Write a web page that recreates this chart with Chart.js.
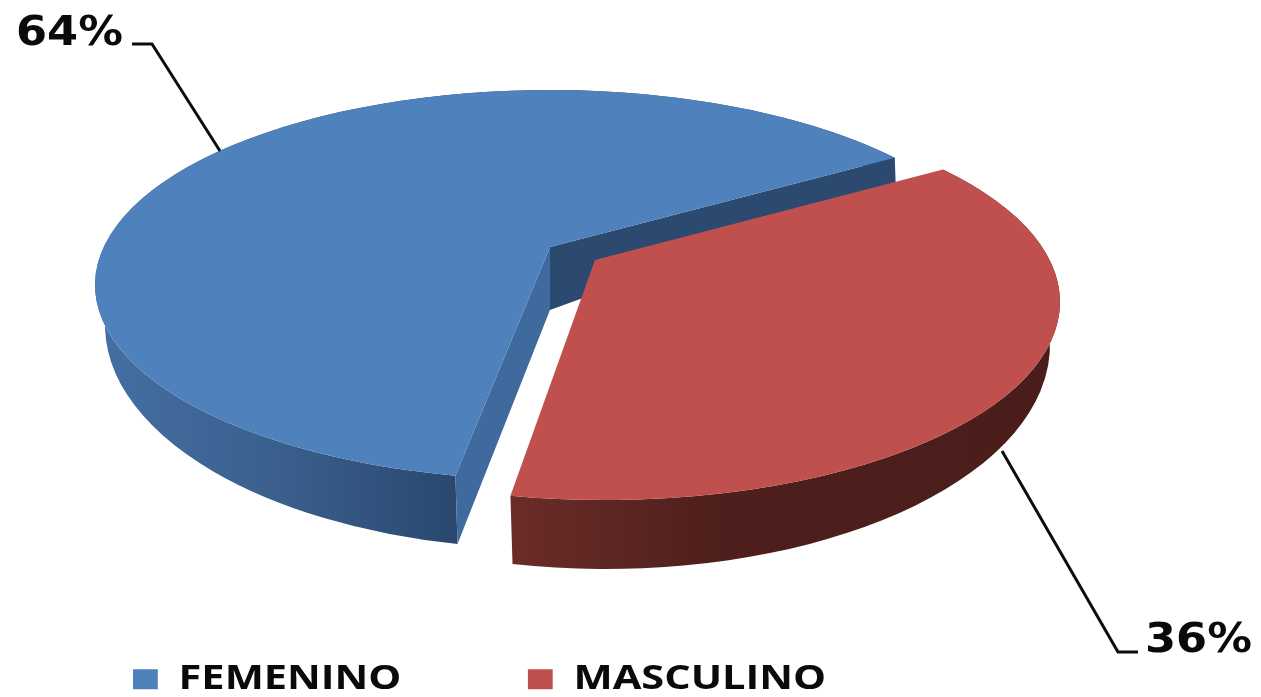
<!DOCTYPE html>
<html><head><meta charset="utf-8">
<style>html,body{margin:0;padding:0;background:#fff;overflow:hidden}canvas{display:block;filter:blur(.5px)}</style>
<script src="https://cdn.jsdelivr.net/npm/chart.js@4"></script>
</head><body><canvas id="c" width="1261" height="697"></canvas>
<script>
const categories = ['FEMENINO', 'MASCULINO'];
const shares = [64, 36];
const topColors = ['#4f81bd', '#c0504d'];

const DEG = Math.PI / 180;
// Projection of the tilted pie: top and bottom rims are separate ellipses, apex sits off-centre.
const projection = [
  { top: {cx:550, cy:285, rx:455, ry:195}, apexTop: [550,247],
    bottom: {cx:550, cy:325, rx:445, ry:224}, apexBottom: [550,310],
    wall: [[100,'#446fa2'],[280,'#3a5f8d'],[455,'#2a486e']],
    cuts: ['#2c4a70', '#3f6a9e'], trimTop: 0, trimBottom: 1.7 * DEG },
  { top: {cx:605, cy:302, rx:455, ry:198}, apexTop: [595,260],
    bottom: {cx:605, cy:345, rx:445, ry:224}, apexBottom: [600,325],
    wall: [[510,'#6b2c28'],[720,'#4e1f1c'],[1050,'#4a1d1b']],
    cuts: null, trimTop: -1.3 * DEG, trimBottom: 0 }
];
const PERSPECTIVE = 0.795;
const LEGEND_STRETCH = 1.24;
const LEGEND_X = 133, LEGEND_Y = 662.5;
function warp(a) {
  let psi = a - Math.PI / 2;
  psi = Math.atan2(Math.sin(psi), Math.cos(psi));
  return 2 * Math.atan(Math.tan(psi / 2) / PERSPECTIVE) + Math.PI / 2;
}
function rimPoint(e, t) { return [e.cx + e.rx * Math.cos(t), e.cy + e.ry * Math.sin(t)]; }

const pie3d = {
  id: 'pie3d',
  afterLayout(chart) {
    const lg = chart.legend, pad = lg.options.labels.padding;
    const dx = LEGEND_X - pad - lg.left, dy = LEGEND_Y - pad - lg.top;
    lg.left += dx; lg.right = chart.width * 2; lg.top += dy; lg.bottom += dy;
    if (!lg._stretched) {
      const draw = lg.draw.bind(lg);
      lg.draw = function () {
        const ctx = chart.ctx;
        ctx.save();
        ctx.translate(LEGEND_X, 0); ctx.scale(LEGEND_STRETCH, 1); ctx.translate(-LEGEND_X, 0);
        draw();
        ctx.restore();
      };
      lg._stretched = true;
    }
  },
  beforeDatasetsDraw(chart) {
    const ctx = chart.ctx, meta = chart.getDatasetMeta(0);
    meta.data.forEach((arc, i) => {
      const p = projection[i];
      const a0 = warp(arc.startAngle) + p.trimTop, a1 = warp(arc.endAngle);
      // outer wall
      const x0 = p.wall[0][0], x1 = p.wall[p.wall.length-1][0];
      const g = ctx.createLinearGradient(x0, 0, x1, 0);
      p.wall.forEach(s => g.addColorStop((s[0]-x0)/(x1-x0), s[1]));
      ctx.beginPath();
      ctx.ellipse(p.top.cx, p.top.cy, p.top.rx, p.top.ry, 0, a0, a1, false);
      ctx.ellipse(p.bottom.cx, p.bottom.cy, p.bottom.rx, p.bottom.ry, 0, a1, a0, true);
      ctx.closePath(); ctx.fillStyle = g; ctx.fill();
      // cut faces
      if (p.cuts) [a1, a0].forEach((a, k) => {
        const t = rimPoint(p.top, a), b = rimPoint(p.bottom, a + (k === 0 ? p.trimBottom : 0));
        ctx.beginPath(); ctx.moveTo(...p.apexTop); ctx.lineTo(...t); ctx.lineTo(...b); ctx.lineTo(...p.apexBottom);
        ctx.closePath(); ctx.fillStyle = p.cuts[k]; ctx.fill();
      });
      // top face
      ctx.beginPath(); ctx.moveTo(...p.apexTop);
      ctx.ellipse(p.top.cx, p.top.cy, p.top.rx, p.top.ry, 0, a0, a1, false);
      ctx.closePath(); ctx.fillStyle = arc.options.backgroundColor; ctx.fill();
    });
    // leader lines and data labels
    ctx.strokeStyle = '#0d0d0d'; ctx.lineWidth = 3; ctx.lineJoin = 'miter';
    ctx.beginPath(); ctx.moveTo(132,44); ctx.lineTo(152,44); ctx.lineTo(220,151); ctx.stroke();
    ctx.beginPath(); ctx.moveTo(1002,451); ctx.lineTo(1118,652); ctx.lineTo(1138,652); ctx.stroke();
    ctx.fillStyle = '#0a0a0a'; ctx.font = 'bold 41px "DejaVu Sans"'; ctx.textBaseline = 'alphabetic'; ctx.textAlign = 'left';
    const w = ctx.measureText(shares[0] + '%').width;
    [[shares[0], 16, 45], [shares[1], 1145, 652]].forEach(([v, x, y]) => {
      ctx.save(); ctx.translate(x, y); ctx.scale(107 / w, 1); ctx.fillText(v + '%', 0, 0); ctx.restore();
    });
    return false;
  }
};

new Chart(document.getElementById('c'), {
  type: 'pie',
  data: { labels: categories, datasets: [{ data: shares, backgroundColor: topColors, borderWidth: 0 }] },
  options: {
    responsive: false, animation: false, devicePixelRatio: 1,
    rotation: 189.55,
    plugins: {
      tooltip: { enabled: false },
      legend: { position: 'bottom', align: 'start',
        labels: { boxWidth: 20, boxHeight: 20, padding: 102, color: '#0a0a0a',
          font: { family: '"Open Sans"', size: 33.5, weight: 'bold' } } }
    }
  },
  plugins: [pie3d]
});
</script></body></html>
